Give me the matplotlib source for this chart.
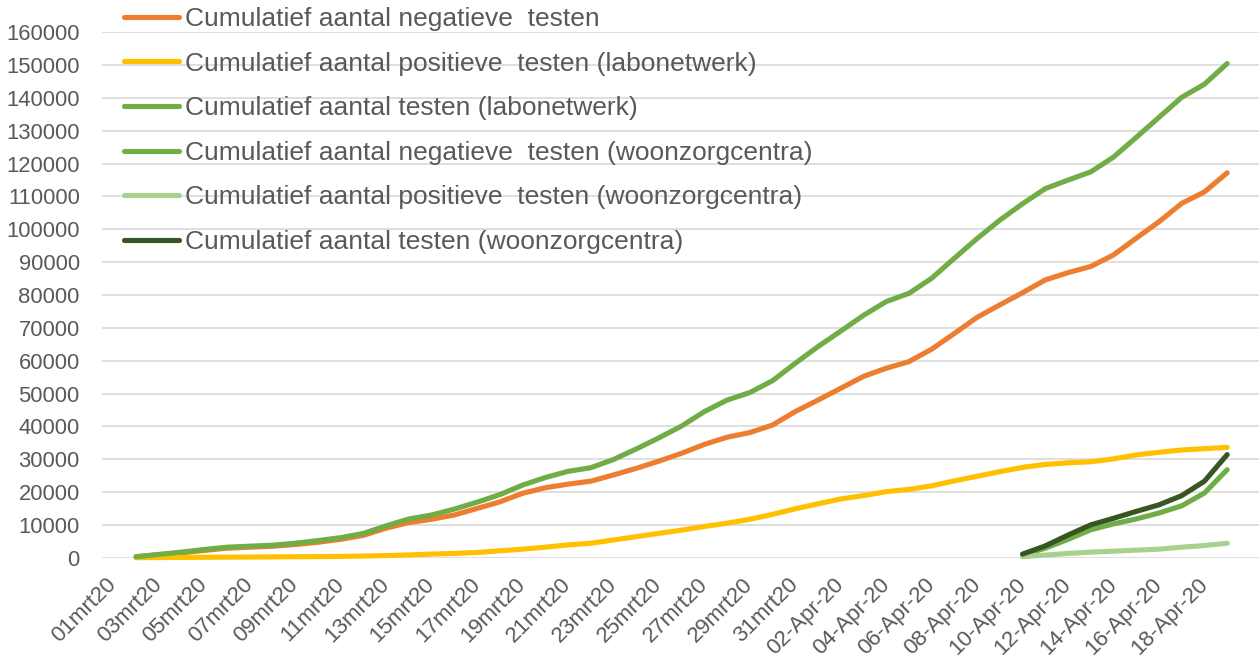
import matplotlib
matplotlib.use("Agg")
import matplotlib.pyplot as plt

# ---- data ----
mrt_days = list(range(1, 32))
apr_days = list(range(1, 21))
categories = [f"{d:02d}mrt20" for d in mrt_days] + [f"{d:02d}-Apr-20" for d in apr_days]

# labonetwerk series start on 02mrt20 (index 1) and end on 19-Apr-20 (index 49)
labo_start = 1
negatief_labo = [300, 900, 1500, 2200, 2900, 3200, 3500, 4000, 4700, 5600,
                 6800, 9000, 10700, 11700, 13000, 15000, 17000, 19600, 21300, 22400,
                 23300, 25200, 27200, 29400, 31800, 34500, 36700, 38100, 40400, 44500,
                 48000, 51600, 55200, 57700, 59700, 63500, 68300, 73200, 77000, 80700,
                 84600, 86800, 88700, 92200, 97300, 102300, 107900, 111400, 117200]
positief_labo = [0, 50, 80, 120, 170, 200, 250, 300, 330, 400,
                 500, 650, 850, 1100, 1300, 1600, 2100, 2600, 3200, 3900,
                 4400, 5400, 6400, 7400, 8400, 9500, 10500, 11700, 13200, 14900,
                 16400, 17900, 18900, 20100, 20800, 21900, 23400, 24800, 26200, 27500,
                 28400, 28900, 29200, 30100, 31300, 32100, 32800, 33200, 33600]
totaal_labo = [300, 1000, 1700, 2500, 3200, 3500, 3800, 4400, 5200, 6100,
               7400, 9700, 11800, 13000, 14800, 16900, 19200, 22100, 24400, 26300,
               27400, 29900, 33100, 36500, 40100, 44500, 48000, 50300, 53900, 59200,
               64300, 69000, 73800, 78000, 80500, 85100, 91200, 97200, 102800, 107800,
               112400, 115000, 117500, 122000, 128000, 134100, 140200, 144200, 150500]

# woonzorgcentra series start on 10-Apr-20 (index 40)
wzc_start = 40
negatief_wzc = [800, 2900, 5600, 8500, 10300, 11800, 13600, 15800, 19700, 26800]
positief_wzc = [300, 800, 1300, 1700, 2000, 2300, 2600, 3200, 3700, 4400]
totaal_wzc = [1100, 3600, 6900, 10000, 12000, 14100, 16100, 18900, 23300, 31400]

series_labels = [
    "Cumulatief aantal negatieve  testen",
    "Cumulatief aantal positieve  testen (labonetwerk)",
    "Cumulatief aantal testen (labonetwerk)",
    "Cumulatief aantal negatieve  testen (woonzorgcentra)",
    "Cumulatief aantal positieve  testen (woonzorgcentra)",
    "Cumulatief aantal testen (woonzorgcentra)",
]
series_colors = ["#ED7D31", "#FFC000", "#70AD47", "#70AD47", "#A9D18E", "#375623"]

y_ticks = list(range(0, 160001, 10000))

# ---- plot ----
plt.rcParams['font.family'] = ['Liberation Sans', 'DejaVu Sans']
W, H = 1259, 659
fig = plt.figure(figsize=(W / 100, H / 100), dpi=100)
ax = fig.add_axes([102 / W, 1 - 557.7 / H, 1 - 102 / W, (557.7 - 32.3) / H])

series = [
    (labo_start, negatief_labo),
    (labo_start, positief_labo),
    (labo_start, totaal_labo),
    (wzc_start, negatief_wzc),
    (wzc_start, positief_wzc),
    (wzc_start, totaal_wzc),
]
handles = []
for (start, vals), lab, col in zip(series, series_labels, series_colors):
    xs = list(range(start, start + len(vals)))
    h, = ax.plot(xs, vals, color=col, lw=3.7, solid_capstyle='round',
                 solid_joinstyle='round', label=lab, clip_on=False)
    handles.append(h)

ax.set_ylim(0, 160000)
ax.set_xlim(-0.5, 50.4)
ax.set_yticks(y_ticks)
ax.set_yticklabels([str(v) for v in y_ticks], fontsize=15.8, color="#595959")
ax.grid(axis='y', color="#D9D9D9", lw=1.2)
ax.set_axisbelow(True)
for s in ax.spines.values():
    s.set_visible(False)
ax.tick_params(axis='both', length=0)
ax.tick_params(axis='y', pad=16)

tick_pos = list(range(0, 49, 2))
ax.set_xticks(tick_pos)
ax.set_xticklabels([categories[i] for i in tick_pos], rotation=45, ha='right',
                   rotation_mode='anchor', va='center', fontsize=16, color="#595959")
ax.tick_params(axis='x', pad=17)

leg = fig.legend(handles=handles, labels=series_labels, loc='upper left',
                 bbox_to_anchor=(124 / W, 1 - 7 / H), frameon=False,
                 fontsize=19, labelcolor="#595959", handlelength=2.1,
                 handletextpad=0.2, labelspacing=0.78, borderpad=0, borderaxespad=0)

fig.savefig("out.png", dpi=100)
